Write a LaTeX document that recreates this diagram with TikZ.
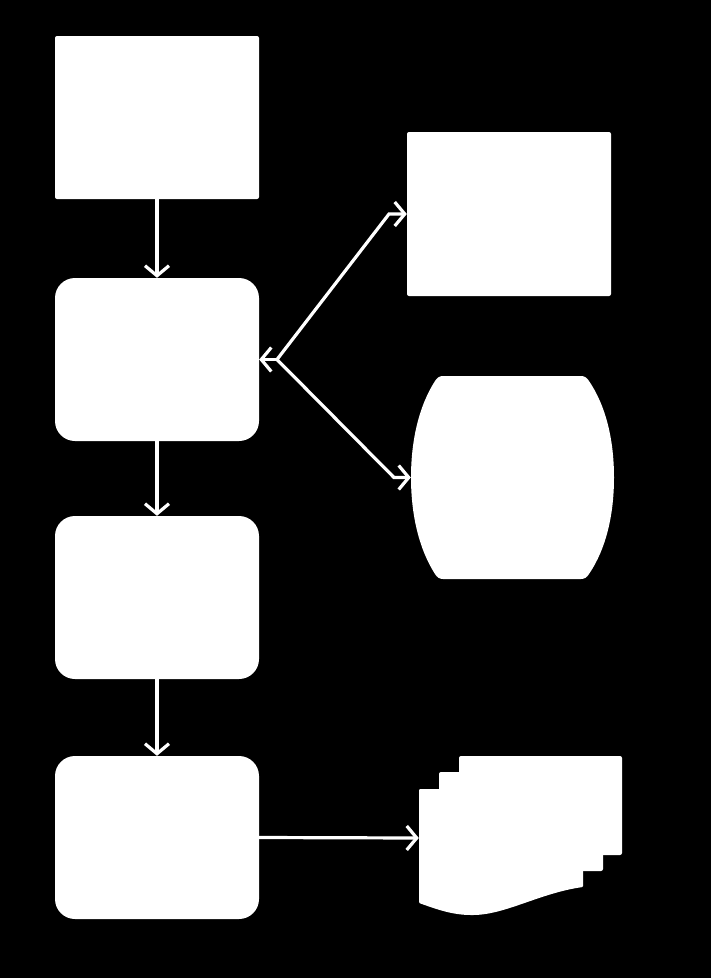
\documentclass[tikz,border=0pt]{standalone}
\usetikzlibrary{arrows.meta}
\begin{document}
\begin{tikzpicture}[x=1pt,y=-1pt,
  box/.style={fill=white,draw=none,minimum width=204pt,minimum height=163pt,inner sep=0pt},
  sqbox/.style={box,rounded corners=2pt},
  rbox/.style={box,rounded corners=20pt},
  ghost/.style={inner sep=0pt,draw=none},
  arr/.style={draw=white,line width=3.2pt,-{Straight Barb[length=10pt,width=24pt,line width=3.2pt]}},
  shapefill/.style={fill=white,draw=none}]
\fill[black] (0,0) rectangle (711,978);
\useasboundingbox (0,0) rectangle (711,978);
% left column
\node[sqbox] (A) at (157,117.5) {};
\node[rbox] (B) at (157,359.5) {};
\node[rbox] (C) at (157,597.5) {};
\node[rbox] (D) at (157,837.5) {};
% right rectangle
\node[box,rounded corners=2pt,minimum height=164pt] (E) at (509,214) {};
% storage shape
\node[ghost,minimum width=203pt,minimum height=203pt] (F) at (512.5,477.5) {};
\fill[white] (443,376) -- (581,376)
  .. controls (585,376) and (587,378) .. (589,381)
  .. controls (606,406) and (614,440) .. (614,477.5)
  .. controls (614,515) and (606,549) .. (589,574)
  .. controls (587,577) and (585,579) .. (581,579)
  -- (443,579)
  .. controls (439,579) and (437,577) .. (435,574)
  .. controls (419,549) and (411,515) .. (411,477.5)
  .. controls (411,440) and (419,406) .. (435,381)
  .. controls (437,378) and (439,376) .. (443,376) -- cycle;
% multi-document
\fill[white,rounded corners=2pt] (459,756) rectangle (622,855);
\fill[white,rounded corners=2pt] (439,772) rectangle (603,871);
\fill[white,rounded corners=1pt] (419,789) -- (583,789) -- (583,887)
  .. controls (540,893) and (505,915) .. (472,915)
  .. controls (452,915) and (436,909) .. (419,903) -- cycle;
\node[ghost,minimum width=164pt,minimum height=98pt] (G) at (501,838) {};
% connectors
\draw[arr] (A.south) -- (B.north);
\draw[arr] (B.south) -- (C.north);
\draw[arr] (C.south) -- (D.north);
\draw[arr] (D.east) -- (G.west);
\coordinate (J) at (277,359.5);
\coordinate (E1) at (389,214);
\coordinate (F1) at (394,477.5);
\draw[arr] (J) -- (B.east);
\draw[arr,line join=miter] (J) -- (E1) -- (E.west);
\draw[arr,line join=miter] (J) -- (F1) -- (F.west);
\end{tikzpicture}
\end{document}
